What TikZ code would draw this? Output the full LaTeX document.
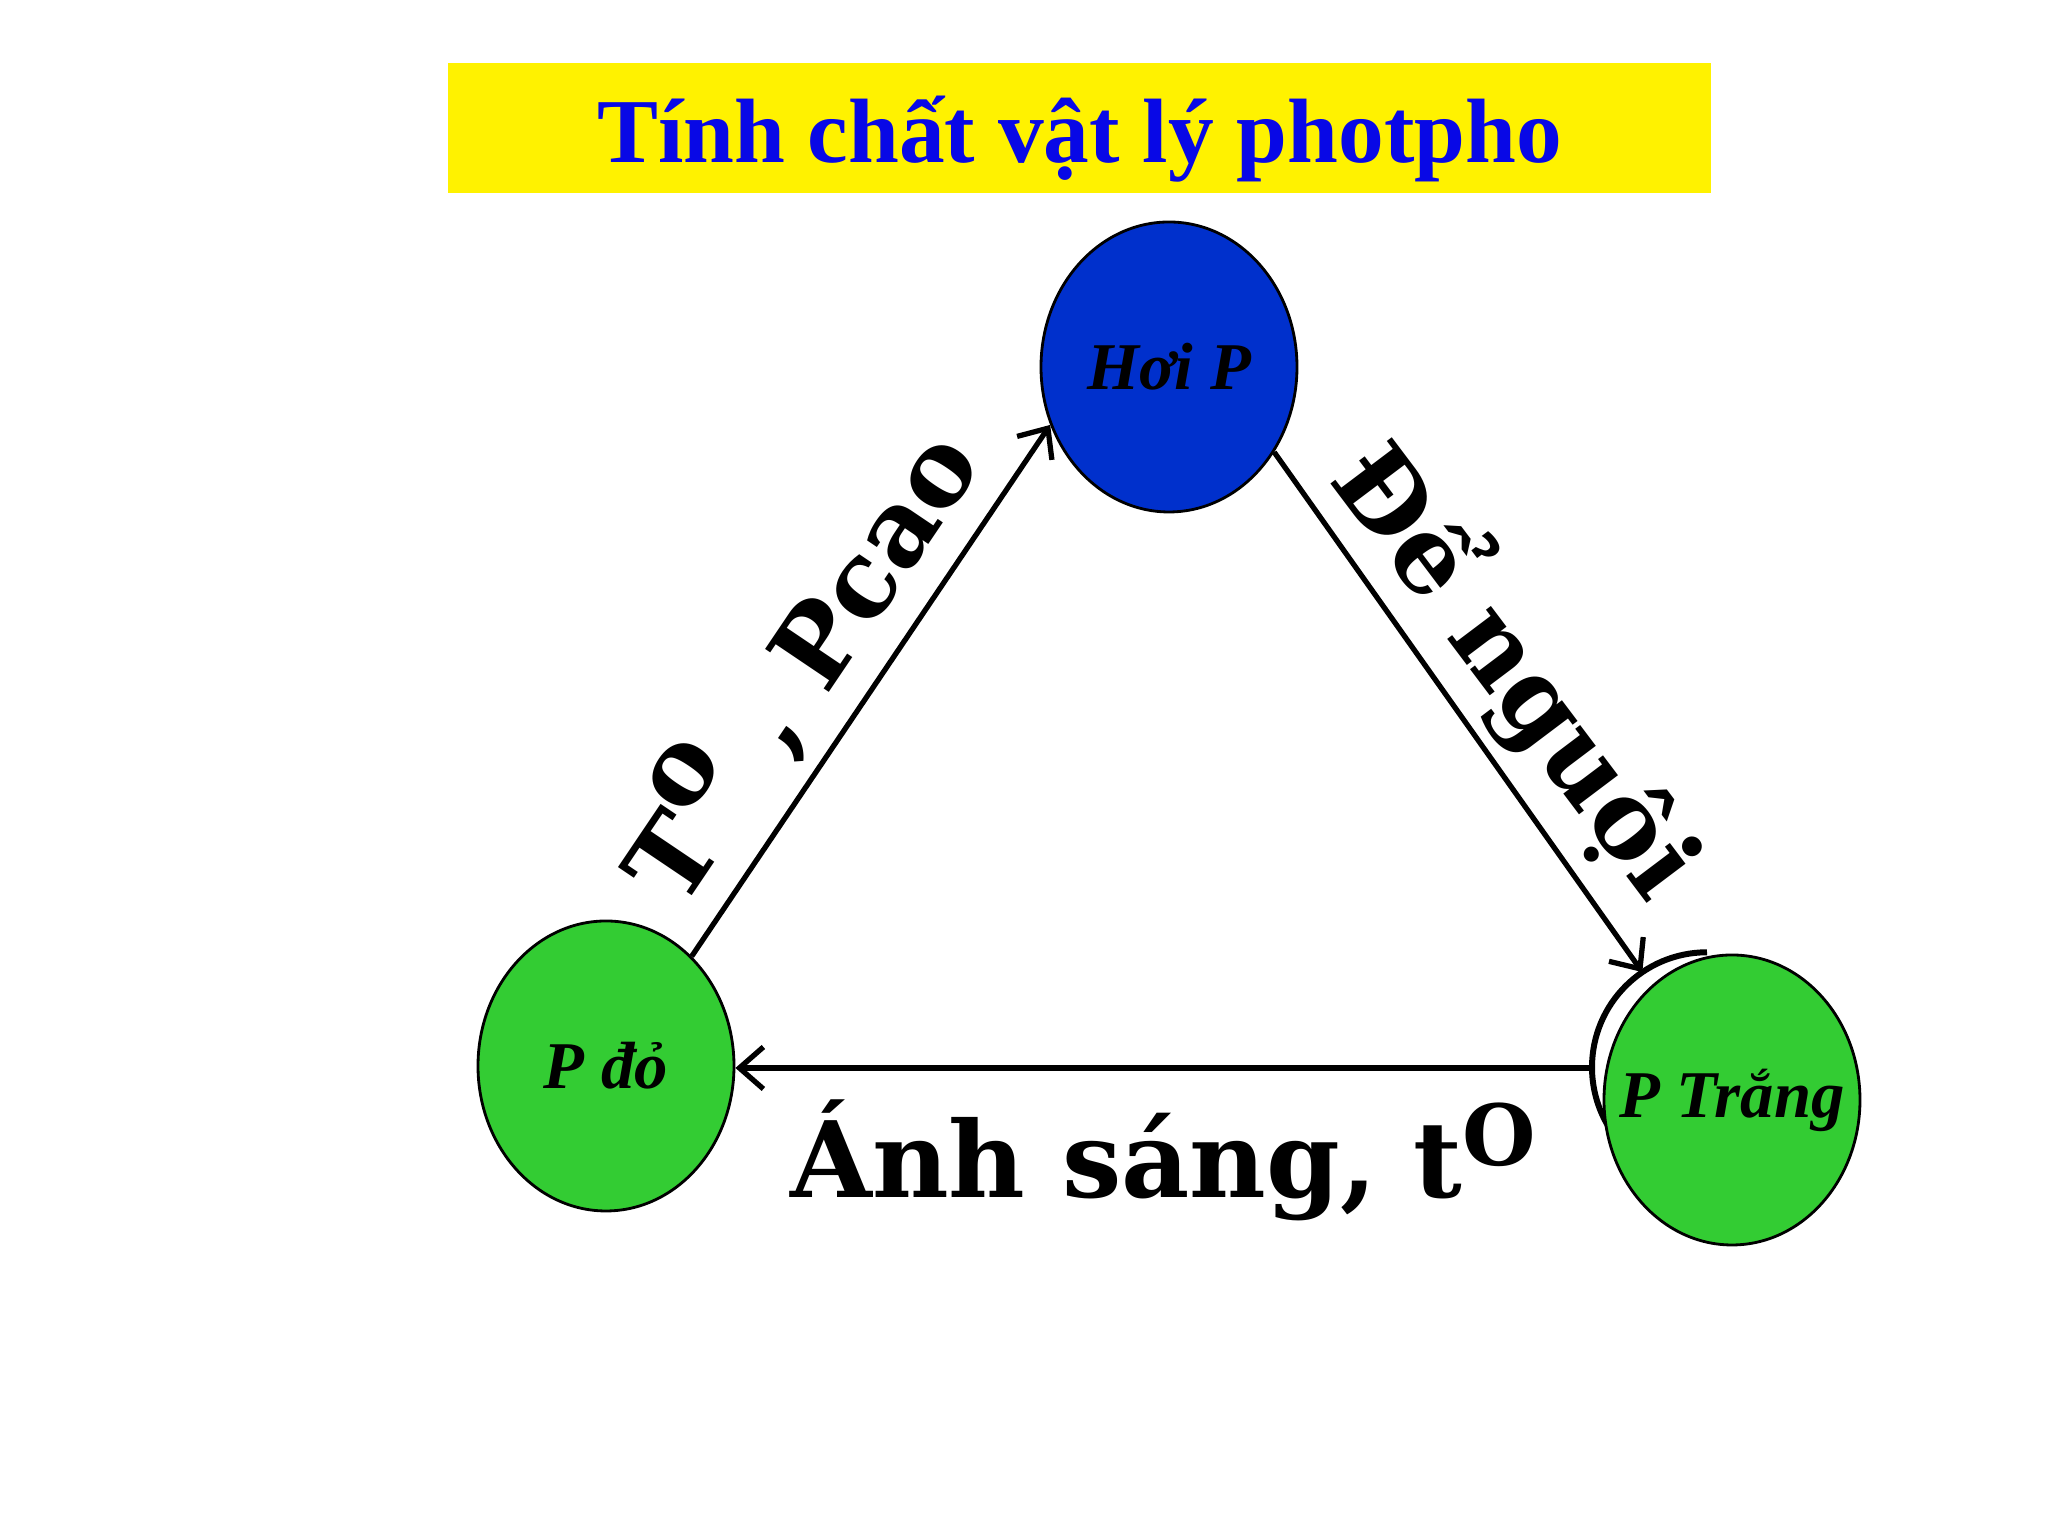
\documentclass[tikz,border=0pt]{standalone}
\usepackage{fontspec}
\setmainfont{Liberation Serif}
\newfontfamily\nhanfont{DejaVu Serif}
\usepackage{tikz}
\usetikzlibrary{positioning,arrows.meta,shapes.geometric}
\definecolor{xanhtieude}{RGB}{8,8,230}
\definecolor{xanhduong}{RGB}{0,48,204}
\definecolor{xanhla}{RGB}{51,204,51}
\tikzset{
>={Straight Barb[length=2.4mm,width=4.2mm]},
  dangP/.style={
    ellipse,
    draw=black, line width=0.8pt,
    minimum width=2.56cm,
    minimum height=2.9cm,
    inner sep=0pt, inner xsep=-0.3cm,
    font=\fontsize{19}{22}\selectfont\bfseries\itshape},
  line/.style={draw, line width=1.5pt, ->},
  nhan/.style={
    font=\nhanfont\fontsize{30}{34}\selectfont\bfseries,
    inner sep=0pt},
}

\begin{document}
\begin{tikzpicture}
  \useasboundingbox (0,0) rectangle (20.48,15.36);
  \node (tieude) [fill=yellow, minimum width=12.63cm, minimum height=1.3cm,
    text height=23pt, text depth=3.5pt,
    text=xanhtieude, font=\fontsize{26}{30}\selectfont\bfseries]
    at (10.795,14.08) {Tính chất vật lý photpho};
  \node (hoip) [dangP, fill=xanhduong] at (11.69,11.69) {Hơi P};
  \node (pdo) [dangP, fill=xanhla] at (6.06,4.70) {P đỏ};
  %% the ring behind P Trang
  \node (ptrangsau) [circle, minimum size=2.3cm, inner sep=0pt] at (17.07,4.68) {};
  \draw[line width=1.7pt] (ptrangsau.north)
    arc[start angle=90, end angle=240, radius=1.15cm];
  \node (ptrang) [dangP, fill=xanhla] at (17.32,4.36) {P Trắng};
  % the three arrows
  \path[line] (pdo.52) -- (hoip.206);
  \path[line] (hoip.321) -- (ptrangsau.124);
  \path[line] (ptrangsau.west) -- (ptrangsau.west -| pdo.east);
  \node (tpcao) [nhan, rotate=56] at (7.97,8.73) {T\raisebox{0.45em}{o} , Pcao};
  \node (denguoi) [nhan, rotate=-53] at (15.18,8.66) {Để nguội};
  \node (anhsang) [nhan] at (11.63,3.76)
    {Ánh sáng, t\raisebox{0.3em}{\scalebox{0.8}{O}}};
\end{tikzpicture}
\end{document}
